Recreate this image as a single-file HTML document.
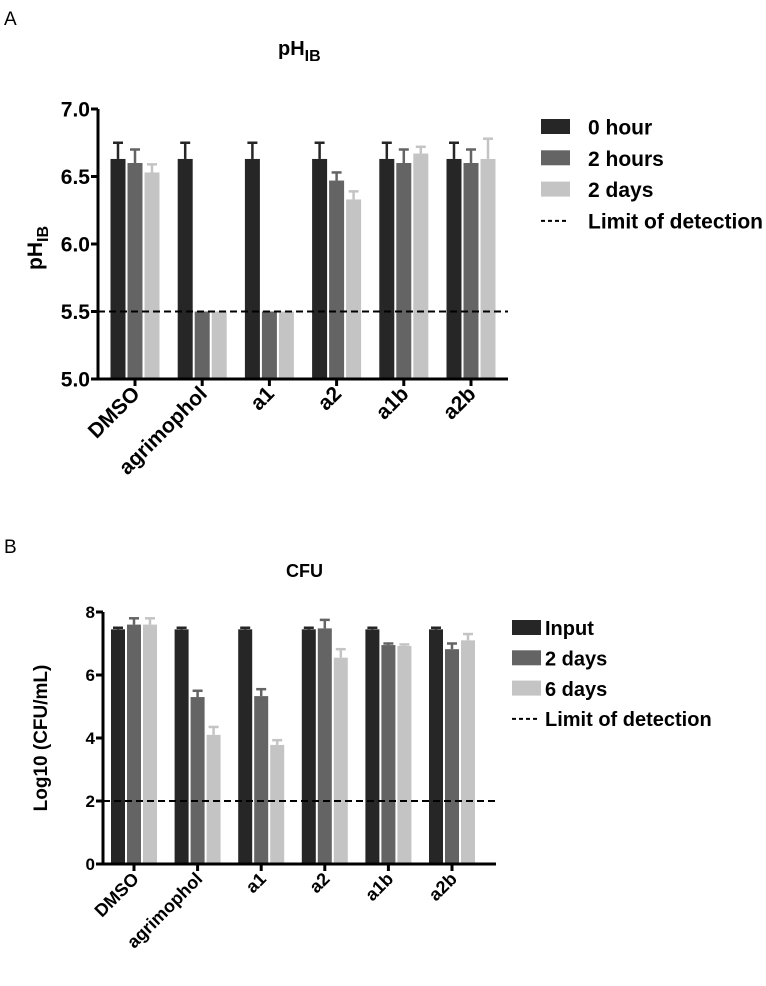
<!DOCTYPE html>
<html><head><meta charset="utf-8"><style>
body{margin:0;background:#fff;width:766px;height:981px;overflow:hidden;font-family:"Liberation Sans",Arial,sans-serif}
svg text{font-family:"Liberation Sans",Arial,sans-serif}
</style></head><body>
<svg id="s" width="766" height="981">
<text x="4" y="25" font-size="19">A</text>
<text x="4" y="553" font-size="19">B</text>
<text x="278" y="55" font-size="20" font-weight="bold">pH<tspan font-size="16" dy="6">IB</tspan></text>
<text x="286" y="577" font-size="18" font-weight="bold">CFU</text>
</svg>
<script>
const categories=["DMSO","agrimophol","a1","a2","a1b","a2b"];
const phSeries=["0 hour","2 hours","2 days"];
const ph0=[6.63,6.63,6.63,6.63,6.63,6.63];
const ph0Err=[0.12,0.12,0.12,0.12,0.12,0.12];
const ph2h=[6.6,5.5,5.5,6.47,6.6,6.6];
const ph2hErr=[0.1,0,0,0.06,0.1,0.1];
const ph2d=[6.53,5.5,5.5,6.33,6.67,6.63];
const ph2dErr=[0.06,0,0,0.06,0.05,0.15];
const phTicks=[5.0,5.5,6.0,6.5,7.0];
const phLimit=5.5;
const cfuSeries=["Input","2 days","6 days"];
const cfuIn=[7.45,7.45,7.45,7.45,7.45,7.45];
const cfuInErr=[0.05,0.05,0.05,0.05,0.05,0.05];
const cfu2d=[7.6,5.3,5.33,7.48,6.95,6.82];
const cfu2dErr=[0.2,0.2,0.22,0.27,0.05,0.18];
const cfu6d=[7.6,4.1,3.78,6.55,6.92,7.1];
const cfu6dErr=[0.2,0.25,0.15,0.27,0.05,0.2];
const cfuTicks=[0,2,4,6,8];
const cfuLimit=2;

const svg=document.getElementById('s');
const NS='http://www.w3.org/2000/svg';
function mk(tag,attrs,name,parent){const e=document.createElementNS(NS,tag);for(const k in attrs)e.setAttribute(k,attrs[k]);


(parent||svg).appendChild(e);return e;}
const colors=["#262626","#646464","#c4c4c4"];
function chart(cfg){
  const g=mk('g',{},cfg.id);
  const y=v=>cfg.y0+(v-cfg.vmin)/(cfg.vmax-cfg.vmin)*(cfg.y1-cfg.y0);
  const x=i=>cfg.x0+cfg.first+i*cfg.step;
  cfg.series.forEach((vals,si)=>{
    vals.forEach((v,i)=>{
      const bx=x(i)+(si-1)*(cfg.bw+2)-cfg.bw/2;
      mk('rect',{x:bx,y:y(v),width:cfg.bw,height:y(cfg.vmin)-y(v),fill:colors[si]},'bar-'+cfg.names[si].replace(/\s+/g,'-')+'-'+categories[i],g);
      const e=cfg.errs[si][i];
      if(e>0){const cx=bx+cfg.bw/2;
        mk('line',{x1:cx,x2:cx,y1:y(v),y2:y(v+e),stroke:colors[si],'stroke-width':2.5},'error-bar',g);
        mk('line',{x1:cx-5,x2:cx+5,y1:y(v+e),y2:y(v+e),stroke:colors[si],'stroke-width':2.5},'error-cap',g);}
    });
  });
  mk('line',{x1:cfg.x0,x2:cfg.xend,y1:y(cfg.limit),y2:y(cfg.limit),stroke:'#000','stroke-width':2,'stroke-dasharray':'7,4'},'limit-of-detection-line',g);
  mk('line',{x1:cfg.x0,x2:cfg.x0,y1:cfg.y1,y2:y(cfg.vmin)+1.5,stroke:'#000','stroke-width':3},'y-axis',g);
  mk('line',{x1:cfg.x0-1.5,x2:cfg.xend,y1:y(cfg.vmin),y2:y(cfg.vmin),stroke:'#000','stroke-width':3},'x-axis',g);
  cfg.ticks.forEach(t=>{
    mk('line',{x1:cfg.x0-7,x2:cfg.x0,y1:y(t),y2:y(t),stroke:'#000','stroke-width':3},'y-tick',g);
    const tx=mk('text',{x:cfg.x0-8,y:y(t)+cfg.fs*0.36,'text-anchor':'end','font-size':cfg.fs,'font-weight':'bold'},'y-tick-label',g);
    tx.textContent=cfg.fmt(t);
  });
  categories.forEach((c,i)=>{
    mk('line',{x1:x(i),x2:x(i),y1:y(cfg.vmin),y2:y(cfg.vmin)+7,stroke:'#000','stroke-width':3},'x-tick',g);
    const tx=mk('text',{x:0,y:0,'text-anchor':'end','font-size':cfg.xfs,'font-weight':'bold',transform:`translate(${x(i)+6} ${y(cfg.vmin)+16}) rotate(-45)`},'x-tick-label',g);
    tx.textContent=c;
  });
  const names=cfg.names.concat(["Limit of detection"]);
  names.forEach((n,i)=>{
    const ly=cfg.ly+i*cfg.lstep;
    if(i<3) mk('rect',{x:cfg.lx,y:ly-8,width:29,height:15,fill:colors[i]},'legend-swatch',g);
    else mk('line',{x1:cfg.lx,x2:cfg.lx+27,y1:ly,y2:ly,stroke:'#000','stroke-width':2,'stroke-dasharray':'4,3'},'legend-swatch',g);
    const tx=mk('text',{x:cfg.lx+cfg.ltx,y:ly+cfg.lfs*0.36,'font-size':cfg.lfs,'font-weight':'bold'},'legend-entry',g);
    tx.textContent=n;
  });
  return g;
}
chart({id:'ph-chart',x0:98,xend:508,y0:379,y1:109,vmin:5,vmax:7,first:37,step:67.2,bw:15,
  series:[ph0,ph2h,ph2d],errs:[ph0Err,ph2hErr,ph2dErr],names:phSeries,ticks:phTicks,limit:phLimit,
  fmt:t=>t.toFixed(1),fs:21,xfs:21,lx:541,ltx:47,ly:127,lstep:31.3,lfs:21});
chart({id:'cfu-chart',x0:103,xend:496,y0:864,y1:612,vmin:0,vmax:8,first:31,step:63.6,bw:14,
  series:[cfuIn,cfu2d,cfu6d],errs:[cfuInErr,cfu2dErr,cfu6dErr],names:cfuSeries,ticks:cfuTicks,limit:cfuLimit,
  fmt:t=>String(t),fs:17,xfs:18,lx:512,ltx:33,ly:628,lstep:30.3,lfs:20});
const yt1=mk('text',{x:0,y:0,'font-size':21,'font-weight':'bold',transform:'translate(42 248) rotate(-90)','text-anchor':'middle'},'y-axis-title-ph');
yt1.innerHTML='pH<tspan font-size="16" dy="6">IB</tspan>';
const yt2=mk('text',{x:0,y:0,'font-size':19,'font-weight':'bold',transform:'translate(47 738) rotate(-90)','text-anchor':'middle'},'y-axis-title-cfu');
yt2.textContent='Log10 (CFU/mL)';
</script>
</body></html>
